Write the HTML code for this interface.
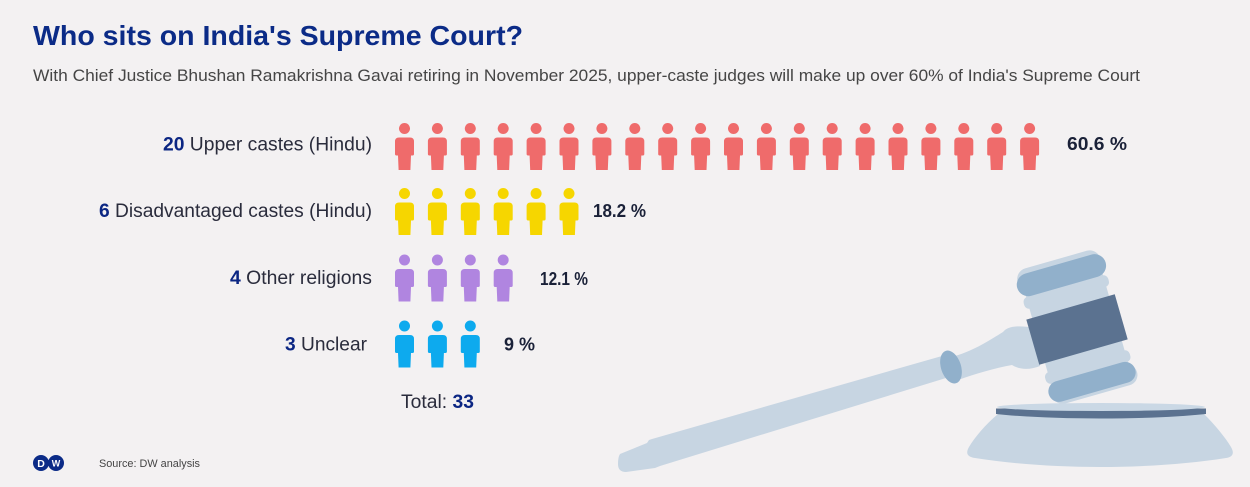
<!DOCTYPE html>
<html>
<head>
<meta charset="utf-8">
<style>
  html, body { margin: 0; padding: 0; background: #f3f1f2; }
  body { width: 1250px; height: 487px; overflow: hidden; }
  svg { display: block; font-family: "Liberation Sans", Arial, sans-serif; }
</style>
</head>
<body>
<svg width="1250" height="487" viewBox="0 0 1250 487" xmlns="http://www.w3.org/2000/svg">
  <defs>
    <g id="p">
      <circle cx="9.5" cy="5.5" r="5.5"/>
      <path d="M0,18.5 Q0,14.5 4,14.5 L15,14.5 Q19,14.5 19,18.5 L19,31 Q19,32.5 17.5,32.5 L16,32.5 L15.4,47 L3.6,47 L3,32.5 L1.5,32.5 Q0,32.5 0,31 Z"/>
    </g>
  </defs>

  <rect width="1250" height="487" fill="#f3f1f2"/>

  <!-- Title & subtitle -->
  <text x="33" y="45" font-size="28" font-weight="bold" fill="#0b2b87" textLength="490" lengthAdjust="spacingAndGlyphs">Who sits on India's Supreme Court?</text>
  <text x="33" y="81" font-size="16.3" fill="#454545" textLength="1107" lengthAdjust="spacingAndGlyphs">With Chief Justice Bhushan Ramakrishna Gavai retiring in November 2025, upper-caste judges will make up over 60% of India's Supreme Court</text>

  <!-- Labels -->
  <g font-size="19" fill="#2a2c3c">
    <text x="163" y="150.5" textLength="209" lengthAdjust="spacingAndGlyphs"><tspan font-weight="bold" fill="#0b2683">20</tspan> Upper castes (Hindu)</text>
    <text x="99" y="217" textLength="273" lengthAdjust="spacingAndGlyphs"><tspan font-weight="bold" fill="#0b2683">6</tspan> Disadvantaged castes (Hindu)</text>
    <text x="230" y="284" textLength="142" lengthAdjust="spacingAndGlyphs"><tspan font-weight="bold" fill="#0b2683">4</tspan> Other religions</text>
    <text x="285" y="350.5" textLength="82" lengthAdjust="spacingAndGlyphs"><tspan font-weight="bold" fill="#0b2683">3</tspan> Unclear</text>
  </g>

  <!-- Row 1: 20 red -->
  <g fill="#ef6b6b">
    <use href="#p" x="395" y="123"/>
    <use href="#p" x="427.9" y="123"/>
    <use href="#p" x="460.8" y="123"/>
    <use href="#p" x="493.7" y="123"/>
    <use href="#p" x="526.6" y="123"/>
    <use href="#p" x="559.5" y="123"/>
    <use href="#p" x="592.4" y="123"/>
    <use href="#p" x="625.3" y="123"/>
    <use href="#p" x="658.2" y="123"/>
    <use href="#p" x="691.1" y="123"/>
    <use href="#p" x="724" y="123"/>
    <use href="#p" x="756.9" y="123"/>
    <use href="#p" x="789.8" y="123"/>
    <use href="#p" x="822.7" y="123"/>
    <use href="#p" x="855.6" y="123"/>
    <use href="#p" x="888.5" y="123"/>
    <use href="#p" x="921.4" y="123"/>
    <use href="#p" x="954.3" y="123"/>
    <use href="#p" x="987.2" y="123"/>
    <use href="#p" x="1020.1" y="123"/>
  </g>
  <!-- Row 2: 6 yellow -->
  <g fill="#f6d600">
    <use href="#p" x="395" y="188"/>
    <use href="#p" x="427.9" y="188"/>
    <use href="#p" x="460.8" y="188"/>
    <use href="#p" x="493.7" y="188"/>
    <use href="#p" x="526.6" y="188"/>
    <use href="#p" x="559.5" y="188"/>
  </g>
  <!-- Row 3: 4 purple -->
  <g fill="#b085e0">
    <use href="#p" x="395" y="254.5"/>
    <use href="#p" x="427.9" y="254.5"/>
    <use href="#p" x="460.8" y="254.5"/>
    <use href="#p" x="493.7" y="254.5"/>
  </g>
  <!-- Row 4: 3 cyan -->
  <g fill="#0daaee">
    <use href="#p" x="395" y="320.5"/>
    <use href="#p" x="427.9" y="320.5"/>
    <use href="#p" x="460.8" y="320.5"/>
  </g>

  <!-- Percentages -->
  <g font-size="18" font-weight="bold" fill="#1a2138">
    <text x="1067" y="150" textLength="60" lengthAdjust="spacingAndGlyphs">60.6 %</text>
    <text x="593" y="217" textLength="53" lengthAdjust="spacingAndGlyphs">18.2 %</text>
    <text x="540" y="285" textLength="48" lengthAdjust="spacingAndGlyphs">12.1 %</text>
    <text x="504" y="350.5" textLength="31" lengthAdjust="spacingAndGlyphs">9 %</text>
  </g>

  <!-- Total -->
  <text x="401" y="408" font-size="19" fill="#2a2c3c" textLength="73" lengthAdjust="spacingAndGlyphs">Total: <tspan font-weight="bold" fill="#0b2683">33</tspan></text>

  <!-- Gavel -->
  <!-- handle -->
  <path d="M620,454 L647,443 L649,440 L652,439 L942,356 L946,378 L660,466 L655,468 L626,472 Q618,472 618,464 Q618,457 620,454 Z" fill="#c7d5e2"/>
  <!-- neck -->
  <path d="M955,356 C975,350 990,340 1003,332 C1008,326 1018,325 1035,328 L1040,366 C1030,370 1020,370 1012,365 C995,368 975,374 958,380 Z" fill="#c7d5e2"/>
  <!-- collar -->
  <ellipse cx="951" cy="367" rx="10" ry="17" transform="rotate(-18 951 367)" fill="#91b0cb"/>
  <!-- head -->
  <g transform="translate(1077,329.5) rotate(-16)">
    <rect x="-40" y="-52" width="80" height="104" fill="#c7d5e2"/>
    <rect x="-44" y="-45" width="88" height="12" rx="5" fill="#c7d5e2"/>
    <rect x="-44" y="33" width="88" height="12" rx="5" fill="#c7d5e2"/>
    <rect x="-44" y="-73" width="86" height="22" rx="11" fill="#c7d5e2"/>
    <rect x="-46" y="-68" width="92" height="23" rx="11.5" fill="#91b0cb"/>
    <rect x="-46" y="-23.5" width="92" height="47" fill="#5b7290"/>
    <rect x="-42" y="47" width="88" height="21" rx="10.5" fill="#c7d5e2"/>
    <rect x="-45" y="44" width="90" height="21" rx="10.5" fill="#91b0cb"/>
  </g>
  <!-- base -->
  <path d="M998,414 L1204,414 C1215,425 1225,437 1231,447 C1235,454 1232,457 1226,458 C1150,470 1050,470 975,458 C968,457 965,454 969,447 C975,437 985,425 998,414 Z" fill="#c7d5e2"/>
  <path d="M996,408.5 L1206,408.5 L1206,414 C1150,420 1050,420 996,414 Z" fill="#5b7290"/>
  <ellipse cx="1101" cy="407" rx="104" ry="4" fill="#cad8e5"/>

  <!-- DW logo -->
  <circle cx="41" cy="463" r="8" fill="#0b2b87"/>
  <circle cx="56" cy="463" r="8" fill="#0b2b87"/>
  <text x="41" y="467" font-size="10.5" font-weight="bold" fill="#ffffff" text-anchor="middle">D</text>
  <text x="56" y="466.5" font-size="9" font-weight="bold" fill="#ffffff" text-anchor="middle">W</text>

  <!-- Source -->
  <text x="99" y="467" font-size="11" fill="#444444" textLength="101" lengthAdjust="spacingAndGlyphs">Source: DW analysis</text>
</svg>
</body>
</html>
